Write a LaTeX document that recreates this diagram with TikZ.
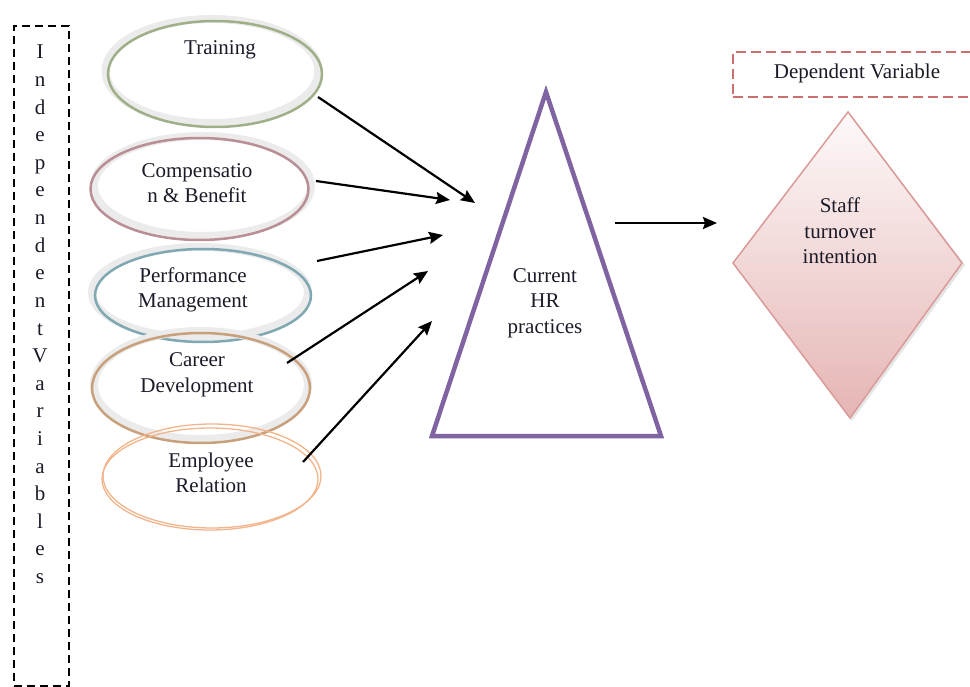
\documentclass[tikz,border=0pt]{standalone}
\usepackage{fontspec}
\setmainfont{Liberation Serif}
\usetikzlibrary{arrows.meta,shapes.geometric}
\definecolor{txt}{HTML}{1A1A28}
\definecolor{ringgray}{HTML}{EBEBEB}
\definecolor{cTrain}{HTML}{9FB089}
\definecolor{cComp}{HTML}{B98F95}
\definecolor{cPerf}{HTML}{7FA8B2}
\definecolor{cCareer}{HTML}{C9A07C}
\definecolor{cEmp}{HTML}{F2B48A}
\definecolor{triPurple}{HTML}{8064A2}
\definecolor{diaEdge}{HTML}{D99A98}
\definecolor{diaTop}{HTML}{FDF9F9}
\definecolor{diaBot}{HTML}{E5B5B4}
\definecolor{depRed}{HTML}{CC6F6F}
\begin{document}
\begin{tikzpicture}[x=1pt,y=-1pt,
  lbl/.style={text=txt,font=\fontsize{21}{25.5}\selectfont,inner sep=0pt,align=center},
  ring/.style={ellipse,draw=ringgray,line width=8pt,inner sep=0pt},
  arr/.style={line width=2.2pt,-{Stealth[length=14pt,width=12pt,inset=2pt]}}]
\useasboundingbox (0,0) rectangle (970,687);
% left dashed box
\node[draw=black,line width=2.8pt,dash pattern=on 8pt off 5pt,minimum width=55pt,minimum height=660pt,inner sep=0pt] (ivbox) at (41.5,356) {};
\foreach \ch [count=\i] in {I,n,d,e,p,e,n,d,e,n,t,V,a,r,i,a,b,l,e,s}
  \node[lbl,anchor=base] (v\i) at (40,{59+27.6*(\i-1)}) {\ch};
% ellipses
\node[ring,minimum width=213pt,minimum height=104pt] (train) at (212,71) {};
\draw[cTrain,line width=2.5pt] ([shift={(3,3)}]train.center) ellipse [x radius=107, y radius=53];
\node[ring,minimum width=217pt,minimum height=100pt] (comp) at (202.5,186) {};
\draw[cComp,line width=2.5pt] ([shift={(-3,3)}]comp.center) ellipse [x radius=109, y radius=51];
\node[ring,minimum width=216pt,minimum height=91pt] (perf) at (200,292.5) {};
\draw[cPerf,line width=2.5pt] ([shift={(3,3)}]perf.center) ellipse [x radius=108, y radius=46.5];
\node[ring,minimum width=214pt,minimum height=108pt] (career) at (201,385) {};
\draw[cCareer,line width=2.5pt] ([shift={(0,3)}]career.center) ellipse [x radius=109, y radius=55];
\node[ellipse,draw=cEmp,line width=1.3pt,minimum width=218pt,minimum height=104pt,inner sep=0pt] (emp) at (212,476) {};
\draw[cEmp,line width=1.3pt] ([shift={(-2,3)}]emp.center) ellipse [x radius=108, y radius=51];
% ellipse texts
\node[lbl] (tTrain) at (220,50) {Training};
\node[lbl] (tComp) at (197,183) {Compensatio\\n \& Benefit};
\node[lbl] (tPerf) at (193,290) {Performance\\Management};
\node[lbl] (tCareer) at (197,375) {Career\\Development};
\node[lbl] (tEmp) at (211,473) {Employee\\Relation};
% triangle
\draw[triPurple,line width=4.5pt,line join=miter] (546,92) -- (661,436) -- (432,436) -- cycle;
\node[lbl] (hr) at (545,303) {Current\\HR\\practices};
% diamond
\fill[black,opacity=0.10] (850,114) -- (965,265) -- (852,421) -- (735,265) -- cycle;
\shade[top color=diaTop,bottom color=diaBot,draw=diaEdge,line width=1.5pt] (848,112) -- (962,263) -- (850,418) -- (733,263) -- cycle;
\node[lbl] (staff) at (840,231) {Staff\\turnover\\intention};
% dependent variable box
\node[draw=depRed,line width=1.8pt,dash pattern=on 10pt off 5pt,minimum width=239pt,minimum height=45pt,inner sep=0pt] (depbox) at (852.5,74.5) {};
\node[lbl] (dep) at (857,73) {Dependent Variable};
% arrows
\coordinate (e1) at (475,203);
\coordinate (e2) at (450,200);
\coordinate (e3) at (443,235);
\coordinate (e4) at (428,271);
\coordinate (e5) at (432,321);
\coordinate (s6) at (615,223);
\coordinate (e6) at (717,223);
\draw[arr] ([shift={(106,26)}]train.center) -- (e1);
\draw[arr] ([shift={(113.5,-5)}]comp.center) -- (e2);
\draw[arr] ([shift={(117,-31.5)}]perf.center) -- (e3);
\draw[arr] ([shift={(86,-22)}]career.center) -- (e4);
\draw[arr] ([shift={(91,-14)}]emp.center) -- (e5);
\draw[arr] (s6) -- (e6);
\end{tikzpicture}
\end{document}
